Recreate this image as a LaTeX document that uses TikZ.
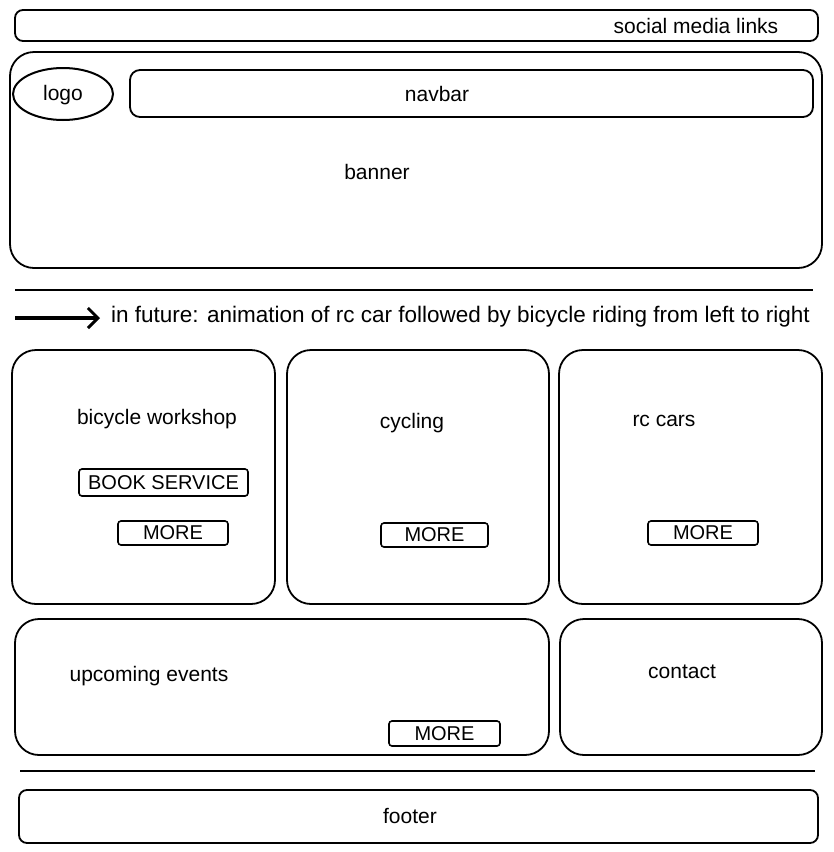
\documentclass[tikz,border=0pt]{standalone}
\usepackage{fontspec}
\setmainfont{Liberation Sans}
\usetikzlibrary{arrows.meta,shapes.geometric}

\tikzset{
  panel/.style={draw, line width=1.8pt, rounded corners=24pt, inner sep=0pt},
  bar/.style={draw, line width=1.8pt, rounded corners=8pt, inner sep=0pt},
  btn/.style={draw, line width=1.6pt, rounded corners=3pt, inner sep=0pt,
    font=\fontsize{20}{20}\selectfont},
  txt/.style={font=\fontsize{21}{21}\selectfont},
  rule/.style={line width=2.4pt},
}

\begin{document}
\begin{tikzpicture}[x=1pt, y=-1pt]
  \useasboundingbox (0,0) rectangle (834,852);

  % header
  \node[bar, minimum width=803pt, minimum height=31pt] (social) at (416.5,25.5) {};
  \node[txt] (socialtxt) at (696,26) {social media links};

  \node[panel, minimum width=812pt, minimum height=216pt] (banner) at (416,160) {};
  \node[ellipse, draw, line width=2pt, minimum width=100pt, minimum height=52pt, inner sep=0pt] (logo) at (63,94) {};
  \node[txt] (logotxt) at (63,95) {logo};
  \node[bar, rounded corners=10pt, minimum width=683pt, minimum height=47pt] (navbar) at (471.5,93.5) {};
  \node[txt] (navbartxt) at (437,94) {navbar};
  \node[txt] (bannertxt) at (377,172) {banner};

  \coordinate (r1a) at (15,290);
  \coordinate (r1b) at (813,290);
  \draw[rule] (r1a) -- (r1b);

  % animation note
  \coordinate (arr0) at (15,318);
  \coordinate (arr1) at (100,318);
  \draw[line width=3.2pt, -{Straight Barb[length=10pt, width=20pt, line width=3pt]}] (arr0) -- (arr1);
  \node[txt, font=\fontsize{22.5}{22.5}\selectfont, anchor=west, inner sep=0pt] (future) at (111,317)
    {in future: animation of rc car followed by bicycle riding from left to right};

  % cards
  \node[panel, minimum width=263pt, minimum height=254pt] (workshop) at (143.5,477) {};
  \node[panel, minimum width=262pt, minimum height=254pt] (cycling) at (418,477) {};
  \node[panel, minimum width=263pt, minimum height=254pt] (rccars) at (690.5,477) {};

  \node[txt] (workshoptxt) at (157,419) {bicycle workshop};
  \node[txt] (cyclingtxt) at (412,423) {cycling};
  \node[txt] (rccarstxt) at (664,421) {rc cars};

  \node[btn, minimum width=169pt, minimum height=27pt] (book) at (163.5,482.5) {BOOK SERVICE};
  \node[btn, minimum width=110pt, minimum height=24pt] (more1) at (173,533) {MORE};
  \node[btn, minimum width=107pt, minimum height=24pt] (more2) at (434.5,535) {MORE};
  \node[btn, minimum width=110pt, minimum height=24pt] (more3) at (703,533) {MORE};

  \node[panel, minimum width=534pt, minimum height=136pt] (events) at (282,687) {};
  \node[panel, minimum width=262pt, minimum height=136pt] (contact) at (691,687) {};
  \node[txt] (eventstxt) at (149,676) {upcoming events};
  \node[txt] (contacttxt) at (682,672) {contact};
  \node[btn, minimum width=111pt, minimum height=25pt] (more4) at (444.5,733.5) {MORE};

  % footer
  \coordinate (r2a) at (20,771);
  \coordinate (r2b) at (815,771);
  \draw[rule] (r2a) -- (r2b);

  \node[bar, minimum width=799pt, minimum height=53pt] (footer) at (418.5,816.5) {};
  \node[txt] (footertxt) at (410,816) {footer};
\end{tikzpicture}
\end{document}
